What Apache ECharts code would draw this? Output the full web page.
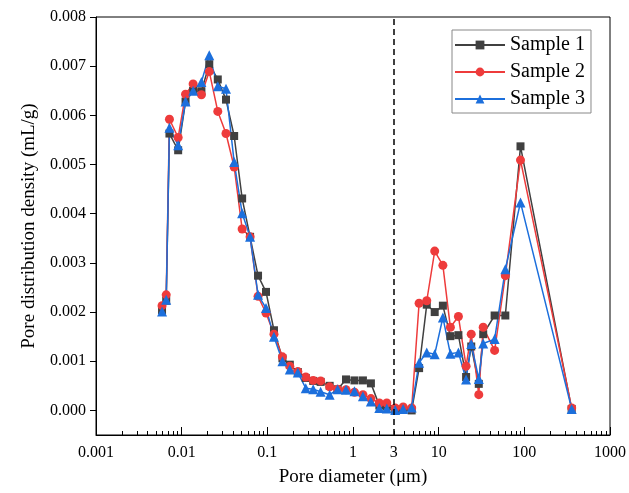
<!DOCTYPE html>
<html><head><meta charset="utf-8">
<script src="https://cdn.jsdelivr.net/npm/echarts@6/dist/echarts.min.js"></script>
<style>html,body{margin:0;padding:0;background:#fff}#c{width:629px;height:493px}</style>
</head><body><div id="c"></div>
<script>
const poreDiameter = [0.0059,0.0066,0.0072,0.0091,0.0111,0.0136,0.0170,0.0210,0.0264,0.0329,0.0410,0.0508,0.0629,0.0779,0.0965,0.1195,0.150,0.183,0.227,0.281,0.343,0.419,0.534,0.661,0.829,1.04,1.306,1.618,2.03,2.48,3.11,3.85,4.84,5.91,7.26,8.99,11.2,13.7,17.0,20.9,24.0,29.4,33.1,45.0,60.0,90.2,357];
const sample1 = [0.00204,0.00223,0.00563,0.00529,0.00628,0.00650,0.00649,0.00704,0.00673,0.00632,0.00558,0.00431,0.00353,0.00274,0.00241,0.00163,0.00106,0.00093,0.00078,0.00066,0.00060,0.00058,0.00050,0.00043,0.00063,0.00061,0.00061,0.00055,0.00010,0.00008,0.00002,0.00002,0.00000,0.00086,0.00215,0.00200,0.00213,0.00151,0.00153,0.00068,0.00130,0.00054,0.00155,0.00193,0.00193,0.00537,0.00003];
const sample2 = [0.00213,0.00235,0.00592,0.00555,0.00643,0.00664,0.00642,0.00689,0.00608,0.00563,0.00495,0.00369,0.00353,0.00232,0.00198,0.00155,0.00109,0.00090,0.00079,0.00068,0.00061,0.00060,0.00048,0.00043,0.00042,0.00037,0.00032,0.00024,0.00015,0.00015,0.00005,0.00007,0.00005,0.00218,0.00223,0.00324,0.00295,0.00169,0.00191,0.00090,0.00155,0.00032,0.00169,0.00122,0.00274,0.00509,0.00005];
const sample3 = [0.00201,0.00225,0.00575,0.00539,0.00628,0.00650,0.00668,0.00722,0.00659,0.00654,0.00505,0.00401,0.00353,0.00235,0.00208,0.00150,0.00100,0.00083,0.00077,0.00045,0.00043,0.00038,0.00032,0.00043,0.00042,0.00039,0.00029,0.00018,0.00005,0.00004,0.00001,0.00003,0.00006,0.00097,0.00118,0.00114,0.00189,0.00115,0.00118,0.00063,0.00135,0.00064,0.00136,0.00145,0.00287,0.00423,0.00003];
const seriesNames = ['Sample 1','Sample 2','Sample 3'];
const xMajorTicks = [0.001,0.01,0.1,1,10,100,1000];
const xLabelValues = [0.001,0.01,0.1,1,3,10,100,1000];
const xLabelTexts = ['0.001','0.01','0.1','1','3','10','100','1000'];
const xMinorTicks = [0.002,0.003,0.004,0.005,0.006,0.007,0.008,0.009,
  0.02,0.03,0.04,0.05,0.06,0.07,0.08,0.09,
  0.2,0.3,0.4,0.5,0.6,0.7,0.8,0.9,
  2,3,4,5,6,7,8,9,
  20,30,40,50,60,70,80,90,
  200,300,400,500,600,700,800,900];
const yTicks = [0,0.001,0.002,0.003,0.004,0.005,0.006,0.007,0.008];
const dividerX = 3;

const FONT = "'Liberation Serif','Times New Roman',serif";
const pairs = arr => poreDiameter.map((x,i)=>[x,arr[i]]);
function xLabel(v){
  let best=0, bd=1e9;
  xLabelValues.forEach((t,i)=>{const d=Math.abs(Math.log10(t)-Math.log10(v)); if(d<bd){bd=d;best=i;}});
  return xLabelTexts[best];
}
const chart = echarts.init(document.getElementById('c'), null, {renderer:'canvas'});
chart.setOption({
  animation:false,
  backgroundColor:'#fff',
  grid:{left:96,right:17,top:17,bottom:58,show:true,borderColor:'#000',borderWidth:1,backgroundColor:'transparent'},
  legend:{
    data:seriesNames, orient:'vertical', left:452, top:30,
    itemWidth:50, itemHeight:11, itemGap:7, padding:[5,6,4,2],
    borderColor:'#888', borderWidth:1, borderRadius:0,
    textStyle:{fontFamily:FONT,fontSize:20,color:'#000'}
  },
  xAxis:[{
    type:'log', logBase:10, min:0.001, max:1000, position:'bottom',
    name:'Pore diameter (μm)', nameLocation:'middle', nameGap:33,
    nameTextStyle:{fontFamily:FONT,fontSize:19,color:'#000'},
    axisLine:{show:true,onZero:false,lineStyle:{color:'#000',width:1}},
    axisTick:{show:true,inside:true,length:8,customValues:xMajorTicks,lineStyle:{color:'#000',width:1}},
    axisLabel:{customValues:xLabelValues,formatter:xLabel,fontFamily:FONT,fontSize:16,color:'#000',margin:10},
    splitLine:{show:false}, minorTick:{show:false}
  },{
    type:'log', logBase:10, min:0.001, max:1000, position:'bottom',
    axisLine:{show:false,onZero:false},
    axisTick:{show:true,inside:true,length:4,customValues:xMinorTicks,lineStyle:{color:'#000',width:1}},
    axisLabel:{show:false}, splitLine:{show:false}
  }],
  yAxis:{
    type:'value', min:-0.0005, max:0.008,
    name:'Pore distribution density (mL/g)', nameLocation:'middle', nameGap:57,
    nameTextStyle:{fontFamily:FONT,fontSize:19,color:'#000'},
    axisLine:{show:true,onZero:false,lineStyle:{color:'#000',width:1}},
    axisTick:{show:true,inside:false,length:6,customValues:yTicks,lineStyle:{color:'#000',width:1}},
    axisLabel:{customValues:yTicks,formatter:v=>v.toFixed(3),fontFamily:FONT,fontSize:16,color:'#000',margin:10},
    splitLine:{show:false}
  },
  series:[
    {name:seriesNames[0],type:'line',xAxisIndex:0,data:pairs(sample1),symbol:'rect',symbolSize:8,
     itemStyle:{color:'#404040'},lineStyle:{color:'#404040',width:1.5},
     markLine:{silent:true,symbol:['none','none'],label:{show:false},
       lineStyle:{color:'#000',type:[6,4],width:1.5},data:[{xAxis:dividerX}]}},
    {name:seriesNames[1],type:'line',xAxisIndex:0,data:pairs(sample2),symbol:'circle',symbolSize:9,
     itemStyle:{color:'#ee3b3b'},lineStyle:{color:'#ee3b3b',width:1.5}},
    {name:seriesNames[2],type:'line',xAxisIndex:0,data:pairs(sample3),symbol:'triangle',symbolSize:10,
     itemStyle:{color:'#1c6fdc'},lineStyle:{color:'#1c6fdc',width:1.5}}
  ]
});
</script></body></html>
